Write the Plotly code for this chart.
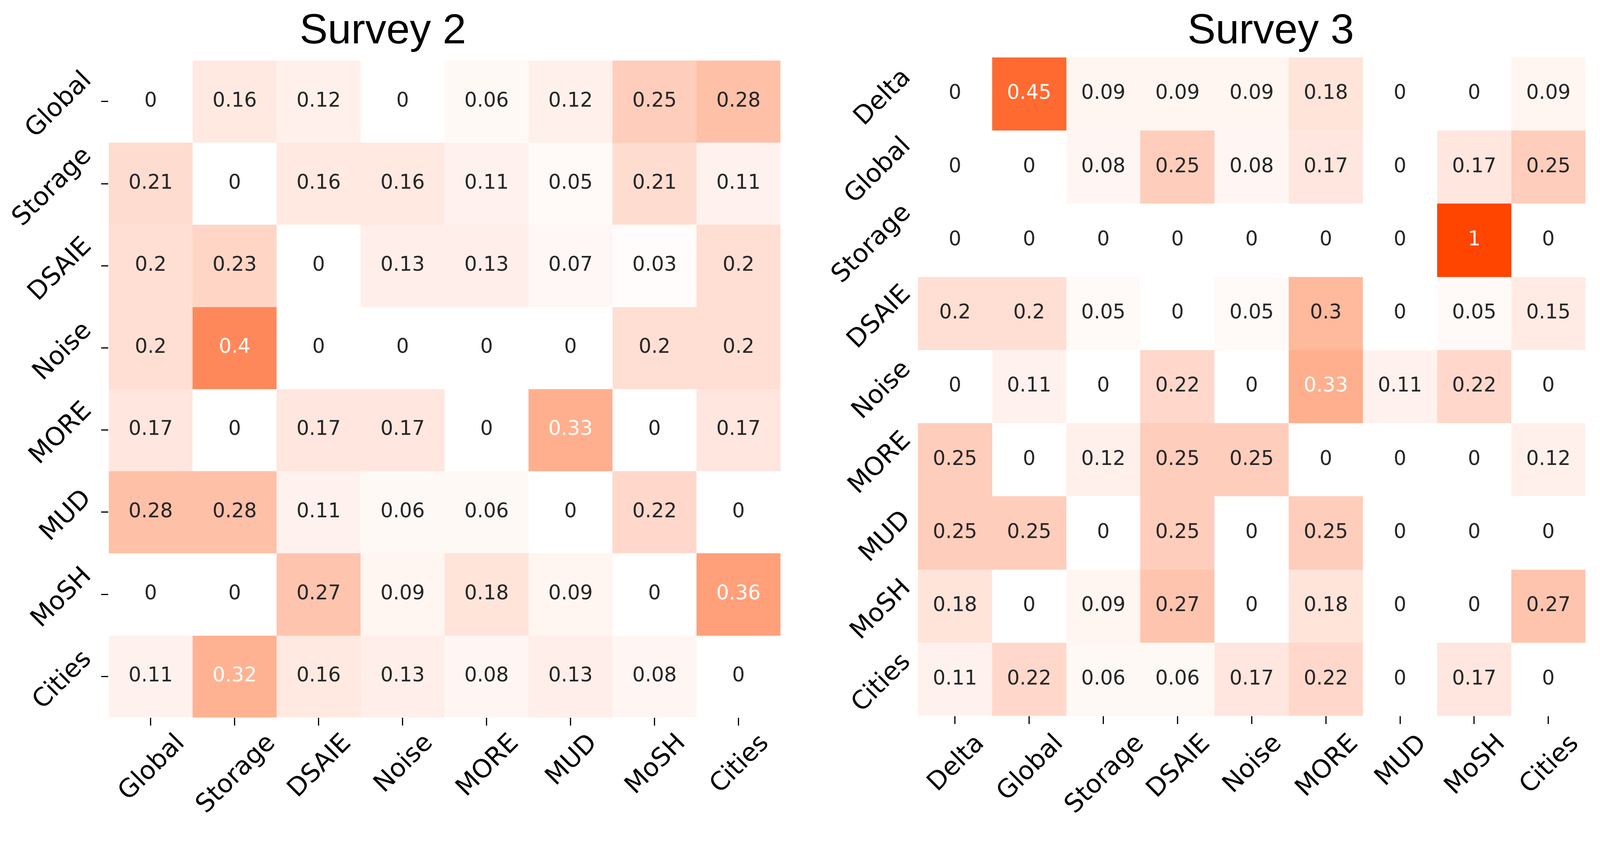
# Survey 2 / Survey 3 transition heatmaps

import plotly.graph_objects as go

survey2_labels = ['Global', 'Storage', 'DSAIE', 'Noise', 'MORE', 'MUD', 'MoSH', 'Cities']
survey2_values = [
    [0, 0.16, 0.12, 0, 0.06, 0.12, 0.25, 0.28],
    [0.21, 0, 0.16, 0.16, 0.11, 0.05, 0.21, 0.11],
    [0.2, 0.23, 0, 0.13, 0.13, 0.07, 0.03, 0.2],
    [0.2, 0.4, 0, 0, 0, 0, 0.2, 0.2],
    [0.17, 0, 0.17, 0.17, 0, 0.33, 0, 0.17],
    [0.28, 0.28, 0.11, 0.06, 0.06, 0, 0.22, 0],
    [0, 0, 0.27, 0.09, 0.18, 0.09, 0, 0.36],
    [0.11, 0.32, 0.16, 0.13, 0.08, 0.13, 0.08, 0],
]

survey3_labels = ['Delta', 'Global', 'Storage', 'DSAIE', 'Noise', 'MORE', 'MUD', 'MoSH', 'Cities']
survey3_values = [
    [0, 0.45, 0.09, 0.09, 0.09, 0.18, 0, 0, 0.09],
    [0, 0, 0.08, 0.25, 0.08, 0.17, 0, 0.17, 0.25],
    [0, 0, 0, 0, 0, 0, 0, 1, 0],
    [0.2, 0.2, 0.05, 0, 0.05, 0.3, 0, 0.05, 0.15],
    [0, 0.11, 0, 0.22, 0, 0.33, 0.11, 0.22, 0],
    [0.25, 0, 0.12, 0.25, 0.25, 0, 0, 0, 0.12],
    [0.25, 0.25, 0, 0.25, 0, 0.25, 0, 0, 0],
    [0.18, 0, 0.09, 0.27, 0, 0.18, 0, 0, 0.27],
    [0.11, 0.22, 0.06, 0.06, 0.17, 0.22, 0, 0.17, 0],
]

# white -> orangered
colorscale = [
    [0.0, '#FFFFFF'], [0.05, '#FFFAF8'], [0.11, '#FFF2EE'], [0.16, '#FFE9E1'],
    [0.21, '#FFDCD0'], [0.25, '#FFCDBB'], [0.28, '#FFC0A8'], [0.33, '#FFAF8D'],
    [0.36, '#FFA07A'], [0.40, '#FF885A'], [0.45, '#FF6A30'], [0.50, '#FF5012'],
    [1.0, '#FF4500'],
]

# the page is shown 4096 px wide, body keeps its 8px margin
S = 4096 / 4180
W, H = 4080, 2104


def px(r):
    # reference x pixel -> paper fraction
    return (r * S - 8) / W


def py(r):
    # reference y pixel (from top) -> paper fraction
    return 1 - (r * S - 8) / H


TICK_FONT = dict(family='DejaVu Sans', size=round(66 * S), color='black')
CELL_SIZE = round(52 * S)

fig = go.Figure()
annotations = []

panels = [
    # labels, values, axis suffix, x edges, y edges, y ticks shown, label shifts
    (survey2_labels, survey2_values, '', (284, 2039), (158, 1874), True, -29, -23),
    (survey3_labels, survey3_values, '2', (2398, 4142), (150, 1870), False, -3, -28),
]

for labels, values, ax, xe, ye, yticks, ylab_shift, xlab_shift in panels:
    n = len(labels)
    fig.add_trace(go.Heatmap(
        z=values, x=labels, y=labels,
        colorscale=colorscale, zmin=0, zmax=1, showscale=False,
        xaxis='x' + ax, yaxis='y' + ax, hoverinfo='skip'
    ))

    # cell values
    xs, ys, txt, cols = [], [], [], []
    for r, row_lab in enumerate(labels):
        for c, col_lab in enumerate(labels):
            v = values[r][c]
            xs.append(col_lab)
            ys.append(row_lab)
            txt.append(f'{v:g}')
            cols.append('white' if v >= 0.31 else '#262626')
    fig.add_trace(go.Scatter(
        x=xs, y=ys, text=txt, mode='text',
        textfont=dict(family='DejaVu Sans', size=CELL_SIZE, color=cols),
        xaxis='x' + ax, yaxis='y' + ax, hoverinfo='skip', showlegend=False
    ))

    fig.update_layout({
        'xaxis' + ax: dict(
            domain=[px(xe[0]), px(xe[1])], anchor='y' + ax, range=[-0.5, n - 0.5],
            showgrid=False, zeroline=False, showline=False, showticklabels=False,
            ticks='outside', ticklen=20 * S, tickwidth=3 * S, tickcolor='black'
        ),
        'yaxis' + ax: dict(
            domain=[py(ye[1]), py(ye[0])], anchor='x' + ax, range=[n - 0.5, -0.5],
            showgrid=False, zeroline=False, showline=False, showticklabels=False,
            ticks='outside' if yticks else '', ticklen=19 * S, tickwidth=3 * S,
            tickcolor='black'
        ),
    })

    xref = 'x' + ax
    yref = 'y' + ax
    for lab in labels:
        # x tick labels, rotated and centred under each tick
        annotations.append(dict(
            x=lab, xref=xref, y=0, yref=yref + ' domain',
            xanchor='center', yanchor='top', yshift=xlab_shift * S,
            text=lab, textangle=-45, showarrow=False, font=TICK_FONT
        ))
        # y tick labels
        annotations.append(dict(
            x=0, xref=xref + ' domain', y=lab, yref=yref,
            xanchor='right', yanchor='middle', xshift=ylab_shift * S, yshift=-6 * S,
            text=lab, textangle=-45, showarrow=False, font=TICK_FONT
        ))

# panel titles
for title, xr in [('Survey 2', 1000), ('Survey 3', 3320)]:
    annotations.append(dict(
        x=px(xr), xref='paper', y=py(75), yref='paper',
        xanchor='center', yanchor='middle', text=title, showarrow=False,
        font=dict(family='Liberation Sans', size=round(110 * S), color='black')
    ))

fig.update_layout(
    width=W, height=H,
    margin=dict(l=0, r=0, t=0, b=0),
    paper_bgcolor='white', plot_bgcolor='white',
    showlegend=False,
    annotations=annotations
)

fig.write_html('out.html')
